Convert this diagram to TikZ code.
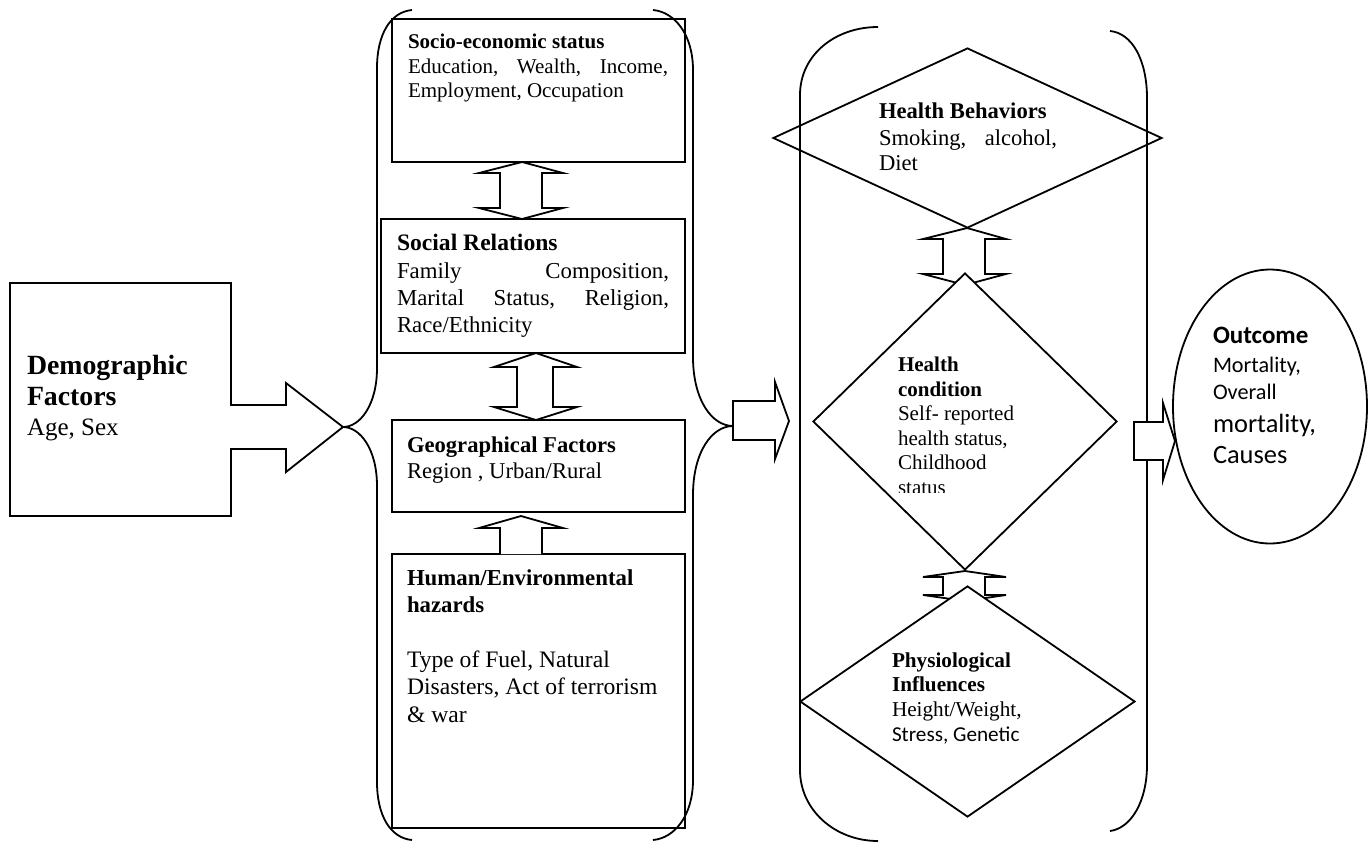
\documentclass[tikz,border=0pt]{standalone}
\usepackage{fontspec}
\setmainfont{Liberation Serif}
\newfontfamily\carl{Carlito}
\usetikzlibrary{shapes.geometric}
\tikzset{
  ln/.style={line width=0.9pt, line join=miter},
  box/.style={draw, ln, rectangle, inner sep=0pt, fill=white},
  dia/.style={draw, ln, diamond, inner sep=0pt, fill=white},
  blk/.style={draw, ln, fill=white},
  txt/.style={anchor=base west, inner sep=0pt, outer sep=0pt},
}
\begin{document}
\begin{tikzpicture}[x=0.5pt,y=-0.5pt]
\useasboundingbox (0,0) rectangle (1372,842);

% Demographic block with arrow
\draw[blk] (10,283) -- (231,283) -- (231,405) -- (286,405) -- (286,383) -- (343,427)
  -- (286,472) -- (286,449) -- (231,449) -- (231,516) -- (10,516) -- cycle;
\coordinate (demotip) at (343,427);

% Boxes of first group
\node[box, minimum width=146.5pt, minimum height=71.5pt] (b1) at (538.5,90.5) {};
\node[box, minimum width=152pt, minimum height=67pt] (b2) at (533,286) {};
\node[box, minimum width=146.5pt, minimum height=46pt] (b3) at (538.5,466) {};
\node[box, minimum width=146.5pt, minimum height=137pt] (b4) at (538.5,691) {};

% block arrows first group
\draw[blk] (522,162) -- (563,173) -- (542,173) -- (542,208) -- (563,208) -- (522,219)
  -- (479,208) -- (500,208) -- (500,173) -- (479,173) -- cycle;
\draw[blk] (536,353) -- (577,367) -- (553,367) -- (553,407) -- (577,407) -- (536,420)
  -- (494,407) -- (517,407) -- (517,367) -- (494,367) -- cycle;
\draw[blk] (500,554) -- (500,528) -- (479,528) -- (521,516) -- (563,528) -- (542,528) -- (542,554);

% braces of first group
\draw[ln] (412,10) .. controls (390,12) and (377,35) .. (377,68) -- (377,368)
  .. controls (377,405) and (360,427) .. (demotip)
  .. controls (360,427) and (377,449) .. (377,486) -- (377,782)
  .. controls (377,815) and (390,838) .. (412,840);
\coordinate (rtip) at (733,426);
\draw[ln] (653,10) .. controls (675,12) and (693,35) .. (693,70) -- (693,357)
  .. controls (693,400) and (712,426) .. (rtip)
  .. controls (712,426) and (693,452) .. (693,495) -- (693,780)
  .. controls (693,815) and (675,838) .. (653,840);

% arrow to second group
\draw[blk] (733,401) -- (775,401) -- (775,382) -- (789,421) -- (775,459) -- (775,440) -- (733,440) -- cycle;

% arrows second group
\draw[blk] (967,228) -- (1006,239) -- (985,239) -- (985,274) -- (1006,274) -- (965,285)
  -- (923,274) -- (943,274) -- (943,239) -- (923,239) -- cycle;
\draw[blk] (965,571) -- (1006,577) -- (985,577) -- (985,595) -- (1006,595) -- (965,601)
  -- (923,595) -- (943,595) -- (943,577) -- (923,577) -- cycle;

% diamonds
\node[dia, minimum width=194.5pt, minimum height=90pt] (d1) at (967.5,138) {};
\node[dia, minimum width=152pt, minimum height=148.5pt] (d2) at (965,421.5) {};
\node[dia, minimum width=167.5pt, minimum height=115.5pt] (d3) at (967.5,701.5) {};

% brackets of second group
\draw[ln] (878,27) .. controls (835,27) and (800,55) .. (800,95) -- (800,770)
  .. controls (800,810) and (835,841) .. (878,841);
\draw[ln] (1110,31) .. controls (1132,33) and (1147,60) .. (1147,98) -- (1147,765)
  .. controls (1147,800) and (1132,828) .. (1110,831);

% arrow to outcome
\draw[blk] (1134,422) -- (1163,422) -- (1163,403) -- (1175,441) -- (1163,480) -- (1163,460) -- (1134,460) -- cycle;

% outcome ellipse
\node[draw, ln, ellipse, inner sep=0pt, minimum width=97pt, minimum height=137pt] (out) at (1270,406.5) {};

% ---- texts ----
\node[txt, font=\fontsize{13.9}{16}\selectfont\bfseries] (dt1) at (27,374) {Demographic};
\node[txt, font=\fontsize{13.9}{16}\selectfont\bfseries] (dt2) at (27,405) {Factors};
\node[txt, font=\fontsize{12.5}{15}\selectfont] (dt3) at (27,435) {Age, Sex};

\node[txt, font=\fontsize{10.5}{12}\selectfont\bfseries] (s1) at (408,48) {Socio-economic status};
\node[txt, font=\fontsize{10.5}{12}\selectfont] (s2) at (408,73) {\hbox to 130pt{Education,\hfill Wealth,\hfill Income,}};
\node[txt, font=\fontsize{10.5}{12}\selectfont] (s3) at (408,97) {Employment, Occupation};

\node[txt, font=\fontsize{11.8}{14}\selectfont\bfseries] (r1) at (397,250) {Social Relations};
\node[txt, font=\fontsize{11.4}{14}\selectfont] (r2) at (397,278) {\hbox to 136pt{Family\hfill Composition,}};
\node[txt, font=\fontsize{11.4}{14}\selectfont] (r3) at (397,305) {\hbox to 136pt{Marital\hfill Status,\hfill Religion,}};
\node[txt, font=\fontsize{11.4}{14}\selectfont] (r4) at (397,332) {Race/Ethnicity};

\node[txt, font=\fontsize{11.3}{14}\selectfont\bfseries] (g1) at (407,452) {Geographical Factors};
\node[txt, font=\fontsize{11.3}{14}\selectfont] (g2) at (407,478) {Region , Urban/Rural};

\node[txt, font=\fontsize{11.4}{14}\selectfont\bfseries] (h1) at (407,585) {Human/Environmental};
\node[txt, font=\fontsize{11.4}{14}\selectfont\bfseries] (h2) at (407,612) {hazards};
\node[txt, font=\fontsize{11.8}{14}\selectfont] (h3) at (407,667) {Type of Fuel, Natural};
\node[txt, font=\fontsize{11.8}{14}\selectfont] (h4) at (407,694) {Disasters, Act of terrorism};
\node[txt, font=\fontsize{11.8}{14}\selectfont] (h5) at (407,722) {\& war};

\node[txt, font=\fontsize{11.3}{14}\selectfont\bfseries] (hb1) at (879,118) {Health Behaviors};
\node[txt, font=\fontsize{11.3}{14}\selectfont] (hb2) at (879,145) {\hbox to 89pt{Smoking,\hfill alcohol,}};
\node[txt, font=\fontsize{11.3}{14}\selectfont] (hb3) at (879,170) {Diet};

\node[txt, font=\fontsize{10.5}{12}\selectfont\bfseries] (hc1) at (898,371) {Health};
\node[txt, font=\fontsize{10.5}{12}\selectfont\bfseries] (hc2) at (898,396) {condition};
\node[txt, font=\fontsize{10.5}{12}\selectfont] (hc3) at (898,420) {Self- reported};
\node[txt, font=\fontsize{10.5}{12}\selectfont] (hc4) at (898,445) {health status,};
\node[txt, font=\fontsize{10.5}{12}\selectfont] (hc5) at (898,469) {Childhood};
\begin{scope}
\clip (880,475) rectangle (1000,492);
\node[txt, font=\fontsize{10.5}{12}\selectfont] (hc6) at (898,494) {status};
\end{scope}

\node[txt, font=\fontsize{10.6}{12}\selectfont\bfseries] (p1) at (892,667) {Physiological};
\node[txt, font=\fontsize{10.6}{12}\selectfont\bfseries] (p2) at (892,691) {Influences};
\node[txt, font=\fontsize{10.6}{12}\selectfont] (p3) at (892,716) {Height/Weight,};
\node[txt, font=\fontsize{10.6}{12}\selectfont\carl] (p4) at (892,741) {Stress, Genetic};

\node[txt, font=\fontsize{12.5}{15}\selectfont\carl\bfseries] (o1) at (1213,343) {Outcome};
\node[txt, font=\fontsize{11.1}{14}\selectfont\carl] (o2) at (1213,372) {Mortality,};
\node[txt, font=\fontsize{11.1}{14}\selectfont\carl] (o3) at (1213,399) {Overall};
\node[txt, font=\fontsize{13.2}{16}\selectfont\carl] (o4) at (1213,432) {mortality,};
\node[txt, font=\fontsize{13.2}{16}\selectfont\carl] (o5) at (1213,463) {Causes};
\end{tikzpicture}
\end{document}
